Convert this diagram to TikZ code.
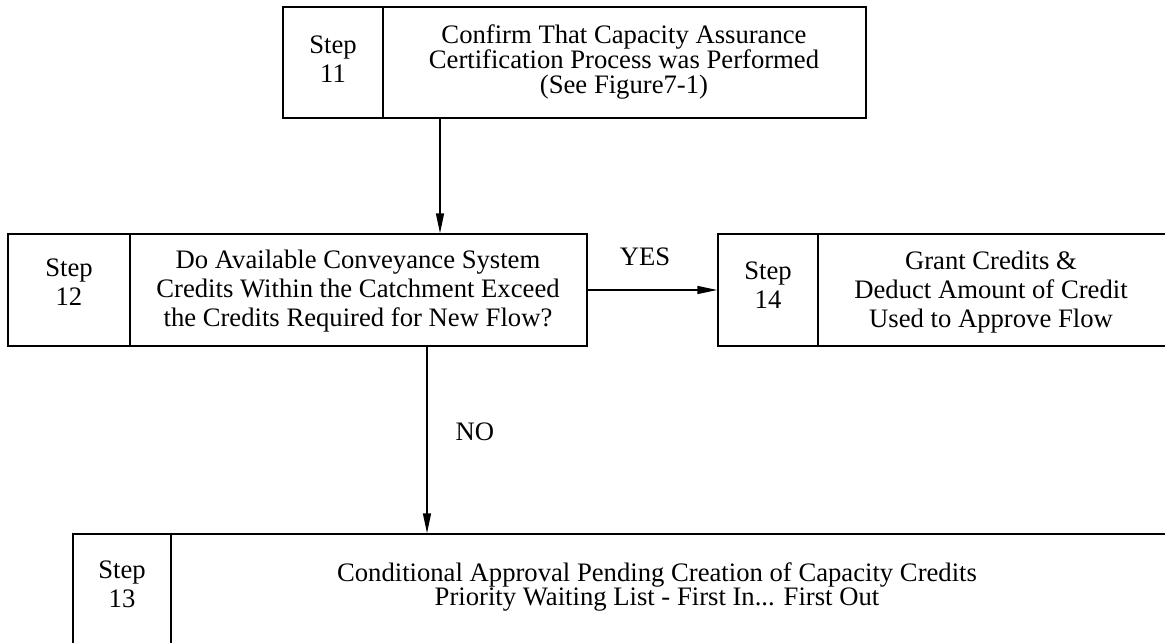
\documentclass[tikz,border=0pt]{standalone}
\usepackage{fontspec}
\setmainfont{Liberation Serif}
\usetikzlibrary{positioning}
\usetikzlibrary{arrows.meta,calc}
\tikzstyle{cell}=[draw=black, line width=1.1pt, inner sep=0pt]
\tikzstyle{tighttext}=[align=center, inner sep=0pt, font=\fontsize{20}{18.5}\selectfont]
\tikzstyle{loosetext}=[align=center, inner sep=0pt, font=\fontsize{20}{22}\selectfont]
\tikzstyle{flow}=[-{Triangle[length=15pt,width=6pt]}, line width=1.1pt]
\tikzstyle{answer}=[font=\fontsize{20}{22}\selectfont]

\begin{document}
\begin{tikzpicture}[x=0.75pt, y=-0.75pt]
\useasboundingbox (0,0) rectangle (1165,643);
\clip (0,0) rectangle (1165,643);

%cells
  \foreach \name/\xa/\ya/\xb/\yb in {s11/283/7/383/118, b11/383/7/866/118,
      s12/8/234/130/346, b12/130/234/587/346,
      s14/718/234/818/346, b14/818/234/1167/346,
      s13/73/534/171/660, b13/171/534/1167/660}
    \node[cell, minimum width={(\xb-\xa)*0.75pt}, minimum height={(\yb-\ya)*0.75pt}] (\name) at ({(\xa+\xb)/2},{(\ya+\yb)/2}) {};

%texts
  \foreach \pos/\name/\txt in {{(624,62)/t11/{Confirm That Capacity Assurance\\Certification Process was Performed\\(See Figure7-1)}},
      {(657,587)/t13/{Conditional Approval Pending Creation of Capacity Credits\\Priority Waiting List - First In... First Out}}}
    \node[tighttext] (\name) at \pos {\txt};
  \foreach \pos/\name/\txt in {{(333,59)/l11/{Step\\11}}, {(69,282)/l12/{Step\\12}}, {(768,285)/l14/{Step\\14}}, {(122,584)/l13/{Step\\13}},
      {(358,291)/t12/{Do Available Conveyance System\\Credits Within the Catchment Exceed\\the Credits Required for New Flow?}},
      {(991,292)/t14/{Grant Credits \&\\Deduct Amount of Credit\\Used to Approve Flow}}}
    \node[loosetext] (\name) at \pos {\txt};

%connectors
\coordinate (down1) at (440,0);
\coordinate (down2) at (427,0);
\draw[flow] (b11.south -| down1) -- (b12.north -| down1);
\draw[flow] (b12.south -| down2) -- (b13.north -| down2);
\draw[flow] (b12.east) -- (s14.west);

\node[answer] (yes) at (645,257) {YES};
\node[answer] (no) at (475,432) {NO};

\end{tikzpicture}
\end{document}
